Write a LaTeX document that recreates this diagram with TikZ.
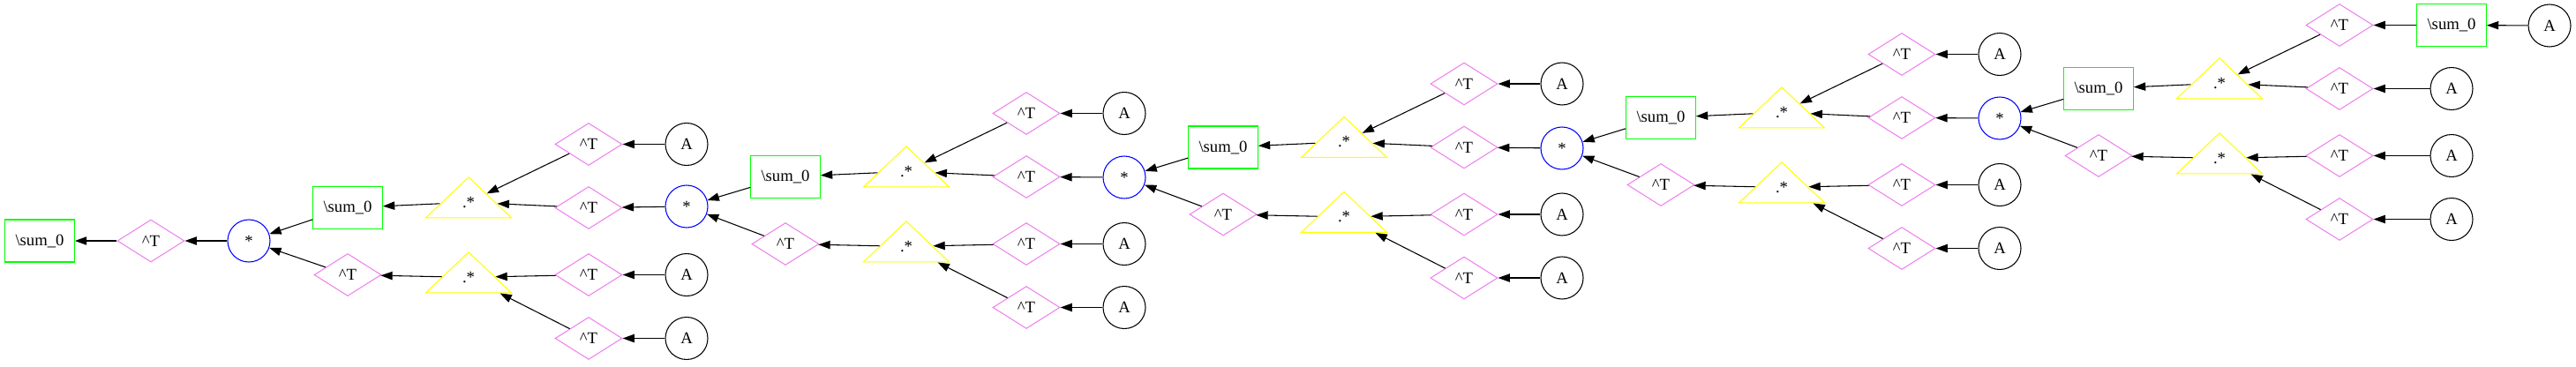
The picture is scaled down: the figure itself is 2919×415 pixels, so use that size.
\documentclass[tikz,border=0pt]{standalone}
\usepackage{fontspec}
\setmainfont{Liberation Serif}
\usetikzlibrary{shapes.geometric,arrows.meta}
\definecolor{gvgreen}{HTML}{00FF00}
\definecolor{gvviolet}{HTML}{EE82EE}
\definecolor{gvyellow}{HTML}{FFFF00}
\definecolor{gvblue}{HTML}{0000FF}
\tikzset{
  edge/.style={-{Triangle[length=10pt,width=7pt]}, line width=.8pt},
  sumbox/.style={draw=gvgreen, rectangle, minimum width=59pt, minimum height=36pt},
  tpose/.style={draw=gvviolet, diamond, minimum width=57pt, minimum height=36pt},
  mul/.style={draw=gvblue, circle, minimum size=36pt},
  leaf/.style={draw=black, circle, minimum size=36pt},
  emul/.style={draw=gvyellow, isosceles triangle, shape border rotate=90,
    isosceles triangle stretches, minimum width=72.75pt, minimum height=34.5pt},
}
\begin{document}
\begin{tikzpicture}[x=0.75pt,y=-0.75pt,
  every node/.style={font=\fontsize{14}{16}\selectfont, line width=.8pt, inner sep=0pt}]
    \useasboundingbox (0,0) rectangle (2919,415);
    \node[sumbox] (sum0) at (45,273) {\textbackslash sum\_0};
    \node[tpose] (tr0) at (171,273) {\textasciicircum T};
    % one block for each product
    \foreach \k/\mx/\my/\by/\ax in {1/282/273/273.5/496, 2/778/234/238.5/496,
        3/1274/201/205/496, 4/1770/168/171.5/496, 5/2266/134/138.5/512}{
        \node[mul] (mul\k) at (\mx,\my) {*};
        \node[sumbox] (sum\k) at (\mx+112,\by-38) {\textbackslash sum\_0};
        \node[tpose] (tr\k) at (\mx+112,\by+38) {\textasciicircum T};
        \node[emul,anchor=apex] (up\k) at (\mx+249,\by-74) {.*};
        \node[emul,anchor=apex] (lo\k) at (\mx+249,\by+11) {.*};
        \node[tpose] (ta\k) at (\mx+385,\by-110) {\textasciicircum T};
        \node[tpose] (tb\k) at (\mx+385,\by-38) {\textasciicircum T};
        \node[tpose] (tc\k) at (\mx+385,\by+38) {\textasciicircum T};
        \node[tpose] (td\k) at (\mx+385,\by+110) {\textasciicircum T};
        \node[leaf] (ac\k) at (\mx+\ax,\by+38) {A};
        \node[leaf] (ad\k) at (\mx+\ax,\by+110) {A};
        \ifnum\k<5
            \node[leaf] (aa\k) at (\mx+\ax,\by-110) {A};
        \else
            \node[sumbox] (aa\k) at (\mx+\ax,\by-110) {\textbackslash sum\_0};
            \node[leaf] (ab\k) at (\mx+\ax,\by-38) {A};
        \fi
    }
    \node[leaf] (A6) at (2889,29) {A};
    % connectors, pointing to the consumer
    \draw[edge] (tr0) -- (sum0);
    \draw[edge] (mul1) -- (tr0);
    \foreach \k in {1,...,5}{
        \pgfmathtruncatemacro\nk{\k+1}
        \draw[edge] (sum\k) -- (mul\k);
        \draw[edge] (tr\k) -- (mul\k);
        \draw[edge] (up\k) -- (sum\k);
        \draw[edge] (lo\k) -- (tr\k);
        \foreach \t in {ta,tb} \draw[edge] (\t\k) -- (up\k);
        \foreach \t in {tc,td} \draw[edge] (\t\k) -- (lo\k);
        \foreach \t in {a,c,d} \draw[edge] (a\t\k) -- (t\t\k);
        \ifnum\k<5 \draw[edge] (mul\nk) -- (tb\k); \else \draw[edge] (ab\k) -- (tb\k); \fi
    }
    \draw[edge] (A6) -- (aa5);
\end{tikzpicture}
\end{document}
